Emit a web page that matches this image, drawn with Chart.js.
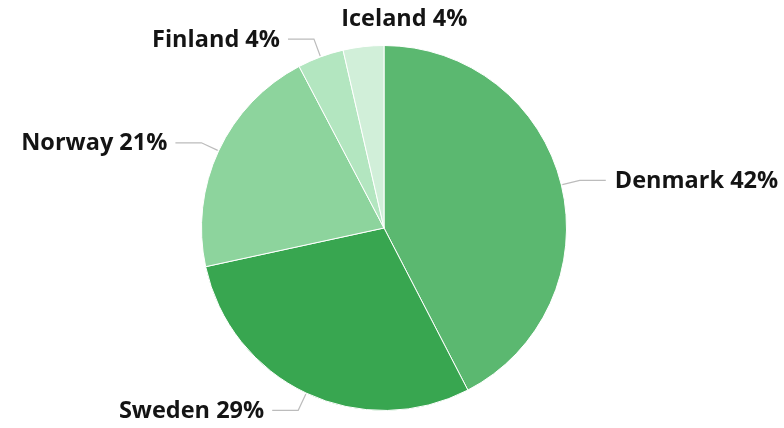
<!DOCTYPE html>
<html>
<head>
<meta charset="utf-8">
<script src="https://cdn.jsdelivr.net/npm/chart.js@4"></script>
<style>
  html, body { margin: 0; padding: 0; background: #ffffff; }
  #wrap { width: 784px; height: 428px; }
</style>
</head>
<body>
<div id="wrap"><canvas id="pie"></canvas></div>
<script>
// Data
const countries = ['Denmark', 'Sweden', 'Norway', 'Finland', 'Iceland'];
const shares = [42.4, 29.2, 20.7, 4.1, 3.6];
const sliceColors = ['#5bb870', '#38a650', '#8dd49d', '#b3e6c0', '#d1efd9'];

// Labels with leader lines, drawn after the slices
const leaderLabels = {
  id: 'leaderLabels',
  afterDatasetsDraw(chart) {
    const ctx = chart.ctx;
    const meta = chart.getDatasetMeta(0);
    const total = shares.reduce((a, b) => a + b, 0);
    ctx.save();
    ctx.font = 'bold 23.5px "Open Sans", sans-serif';
    ctx.fillStyle = '#141414';
    ctx.textBaseline = 'middle';
    meta.data.forEach((arc, i) => {
      const text = countries[i] + ' ' + Math.round(shares[i] / total * 100) + '%';
      const mid = (arc.startAngle + arc.endAngle) / 2;
      const cos = Math.cos(mid), sin = Math.sin(mid);
      const r = arc.outerRadius;
      const x0 = arc.x + cos * (r + 1), y0 = arc.y + sin * (r + 1);
      const x1 = arc.x + cos * (r + 19), y1 = arc.y + sin * (r + 19);
      if (i === countries.length - 1) {
        // the last small slice has its label sitting above the pie
        ctx.textAlign = 'left';
        ctx.fillText(text, x1 - 20, y1 - 8);
        return;
      }
      const right = cos >= 0;
      const x2 = x1 + (right ? 26 : -26);
      ctx.strokeStyle = '#bcbcbc';
      ctx.lineWidth = 1.2;
      ctx.beginPath();
      ctx.moveTo(x0, y0);
      ctx.lineTo(x1, y1);
      ctx.lineTo(x2, y1);
      ctx.stroke();
      ctx.textAlign = right ? 'left' : 'right';
      ctx.fillText(text, x2 + (right ? 9 : -8), y1 + 1);
    });
    ctx.restore();
  }
};

new Chart(document.getElementById('pie'), {
  type: 'pie',
  data: {
    labels: countries,
    datasets: [{
      data: shares,
      backgroundColor: sliceColors,
      borderColor: '#ffffff',
      borderWidth: 1
    }]
  },
  options: {
    responsive: true,
    maintainAspectRatio: false,
    animation: false,
    layout: { padding: { top: 45, bottom: 17, left: 0, right: 16 } },
    plugins: {
      legend: { display: false },
      tooltip: { enabled: false }
    }
  },
  plugins: [leaderLabels]
});
</script>
</body>
</html>
